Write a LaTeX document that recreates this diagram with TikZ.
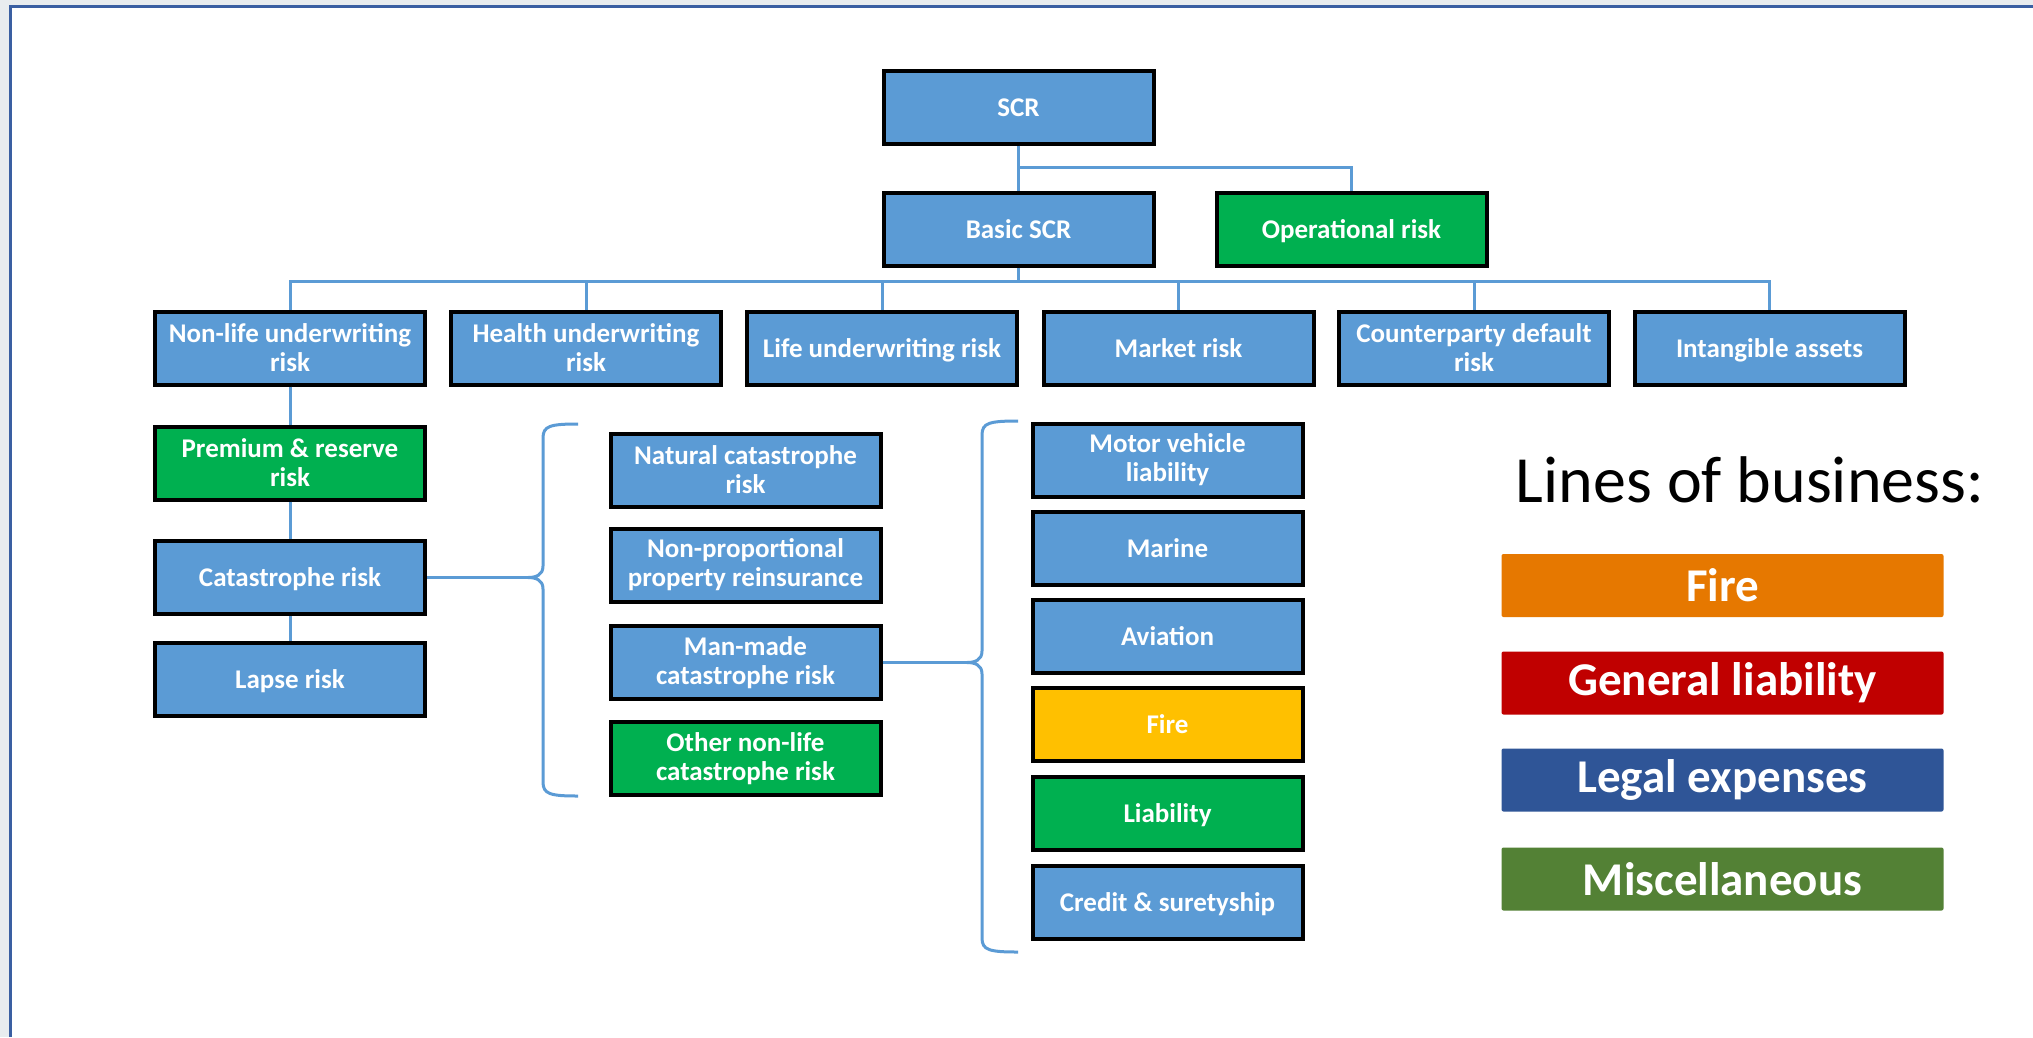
\documentclass[tikz,border=0pt]{standalone}
\usepackage{fontspec}
\setmainfont{Carlito}
\definecolor{cblue}{HTML}{5B9BD5}
\definecolor{cgreen}{HTML}{00B050}
\definecolor{cyellow}{HTML}{FFC000}
\definecolor{cline}{HTML}{5B9BD5}
\definecolor{lorange}{HTML}{E67800}
\definecolor{lred}{HTML}{C00000}
\definecolor{lblue}{HTML}{2F5597}
\definecolor{lgreen}{HTML}{538135}
\definecolor{framec}{HTML}{3A5FA2}
\definecolor{bgc}{HTML}{E8ECEF}
\begin{document}
\begin{tikzpicture}[x=1pt,y=-1pt,
  box/.style={draw=black, line width=4pt, fill=cblue, text=white,
    font=\bfseries\fontsize{27}{29}\selectfont, minimum width=270pt,
    minimum height=73pt, align=center, inner sep=0pt},
  single/.style={text height=18pt, text depth=0pt},
  gbox/.style={box, fill=cgreen},
  ybox/.style={box, fill=cyellow},
  conn/.style={draw=cline, line width=3pt},
  legbox/.style={rounded corners=2pt, minimum width=442pt, minimum height=63pt,
    text=white, font=\bfseries\fontsize{47}{56}\selectfont, inner sep=0pt}]
\useasboundingbox (0,0) rectangle (2033,1037);
\fill[bgc] (0,0) rectangle (2033,1037);
\fill[white] (10.5,6) rectangle (2033,1037);
\draw[framec, line width=3pt] (10.5,1037) -- (10.5,6) -- (2033,6);

% top levels
\node[box, single] (scr) at (1018.5,107) {SCR};
\node[box, single] (basic) at (1018.5,229) {Basic SCR};
\node[gbox, single] (op) at (1351.5,229) {Operational risk};

% row 3
\node[box] (nl) at (290,348) {Non-life underwriting\\risk};
\node[box] (hu) at (586,348) {Health underwriting\\risk};
\node[box, single] (lu) at (882,348) {Life underwriting risk};
\node[box, single] (mk) at (1178.5,348) {Market risk};
\node[box] (cp) at (1474,348) {Counterparty default\\risk};
\node[box, single] (ia) at (1769.5,348) {Intangible assets};

% left column
\node[gbox] (pr) at (290,463) {Premium \& reserve\\risk};
\node[box, single] (cat) at (290,577.5) {Catastrophe risk};
\node[box, single] (lapse) at (290,679) {Lapse risk};

% middle column
\node[box] (nat) at (745.5,470) {Natural catastrophe\\risk};
\node[box] (npp) at (745.5,565) {Non-proportional\\property reinsurance};
\node[box] (mm) at (745.5,662.5) {Man-made\\catastrophe risk};
\node[gbox] (oth) at (745.5,758.5) {Other non-life\\catastrophe risk};

% right column
\node[box] (mv) at (1167.5,460) {Motor vehicle\\liability};
\node[box, single] (mar) at (1167.5,548) {Marine};
\node[box, single] (av) at (1167.5,636) {Aviation};
\node[ybox, single] (fire) at (1167.5,724) {Fire};
\node[gbox, single] (liab) at (1167.5,813.5) {Liability};
\node[box, single] (cred) at (1167.5,902) {Credit \& suretyship};

% connectors
\coordinate (bus1) at (1018.5,167);
\coordinate (bus2) at (1018.5,281);
\draw[conn] (scr.south) -- (basic.north);
\draw[conn] (bus1) -| (op.north);
\draw[conn] (basic.south) -- (bus2);
\foreach \n in {nl,hu,lu,mk,cp,ia} \draw[conn] (bus2) -| (\n.north);
\draw[conn] (nl.south) -- (pr.north);
\draw[conn] (pr.south) -- (cat.north);
\draw[conn] (cat.south) -- (lapse.north);

% braces
\coordinate (tip1) at (528,577.5);
\coordinate (tip2) at (967,662.5);
\draw[conn] (cat.east) -- (tip1);
\draw[conn] (mm.east) -- (tip2);
\draw[conn] (578,424) .. controls (550,424) and (543,426) .. (543,438)
  -- (543,566) .. controls (543,575) and (536,577.5) .. (tip1)
  .. controls (536,577.5) and (543,580) .. (543,589)
  -- (543,782) .. controls (543,794) and (550,796) .. (578,796);
\draw[conn] (1018,421) .. controls (989,421) and (982,423) .. (982,435)
  -- (982,651) .. controls (982,660) and (975,662.5) .. (tip2)
  .. controls (975,662.5) and (982,665) .. (982,674)
  -- (982,938) .. controls (982,950) and (989,952) .. (1018,952);

% legend
\node[anchor=base, font=\fontsize{66}{72}\selectfont, inner sep=0pt] (lob) at (1750,502) {Lines of business:};
\node[legbox, fill=lorange] (lfire) at (1722.5,585.5) {Fire};
\node[legbox, fill=lred] (lgen) at (1722.5,683) {General liability};
\node[legbox, fill=lblue] (lleg) at (1722.5,780) {Legal expenses};
\node[legbox, fill=lgreen] (lmisc) at (1722.5,879) {Miscellaneous};
\end{tikzpicture}
\end{document}
